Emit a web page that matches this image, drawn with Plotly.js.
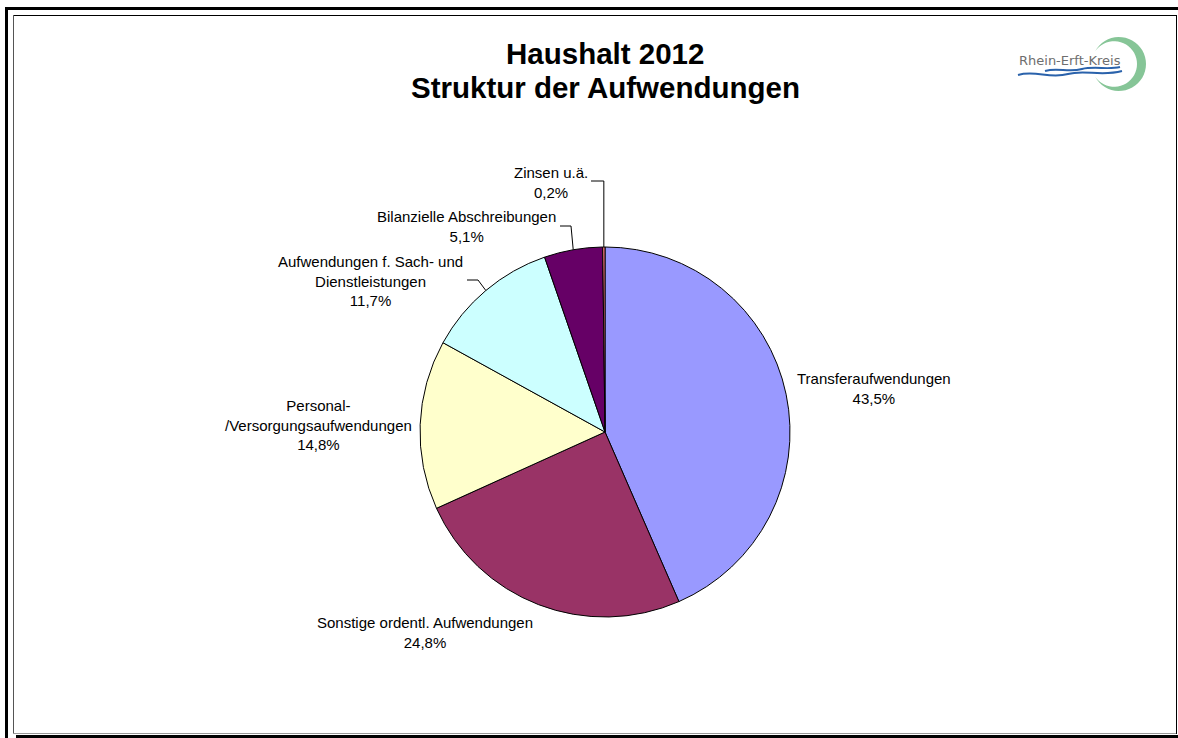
<!DOCTYPE html>
<html>
<head>
<meta charset="utf-8">
<script src="https://cdn.plot.ly/plotly-3.0.1.min.js"></script>
<style>html,body{margin:0;padding:0;background:#fff;}#chart{width:1178px;height:738px;}</style>
</head>
<body>
<div id="chart"></div>
<script>
// ---- data ----
const categories = ['Transferaufwendungen','Sonstige ordentl. Aufwendungen','Personal-/Versorgungsaufwendungen','Aufwendungen f. Sach- und Dienstleistungen','Bilanzielle Abschreibungen','Zinsen u.ä.'];
const labelLines = ['Transferaufwendungen','Sonstige ordentl. Aufwendungen','Personal-<br>/Versorgungsaufwendungen','Aufwendungen f. Sach- und<br>Dienstleistungen','Bilanzielle Abschreibungen','Zinsen u.ä.'];
const shares = [43.5, 24.8, 14.8, 11.7, 5.1, 0.2];
const titleLines = ['Haushalt 2012','Struktur der Aufwendungen'];
const logoText = 'Rhein-Erft-Kreis';

// ---- styles / layout ----
const sliceColors = ['#9999FF','#993366','#FFFFCC','#CCFFFF','#660066','#FF8080'];
const W = 1178, H = 738;
const CX = 605, CY = 432, R = 185;
const px = x => x / W;
const py = y => 1 - y / H;
const P = (x, y) => px(x) + ',' + py(y);
const labelPos = [[874,388],[425,632],[318,425],[371,281],[466,227],[551,183]];
const leaderStarts = {3:[[467,280],[478,280]], 4:[[560,226],[571,226]], 5:[[591,181],null]};
const titleY = [54, 88];
const FONT = 'Liberation Sans, Arial, sans-serif';

const total = shares.reduce((a,b)=>a+b,0);
const fmt = v => v.toFixed(1).replace('.', ',') + '%';

const annotations = [];
const shapes = [];

// title lines
titleLines.forEach((t, i) => {
  annotations.push({xref:'paper', yref:'paper', x:px(605), y:py(titleY[i]), xanchor:'center', yanchor:'middle',
    showarrow:false, text:'<b>'+t+'</b>', font:{family:FONT, size:29.5, color:'#000'}});
});

// labels
let cum = 0;
shares.forEach((v, i) => {
  const f = (cum + v/2) / total;
  cum += v;
  const ang = 2*Math.PI*f;
  const ex = CX + R*Math.sin(ang), ey = CY - R*Math.cos(ang);
  annotations.push({
    xref:'paper', yref:'paper', x:px(labelPos[i][0]), y:py(labelPos[i][1]),
    xanchor:'center', yanchor:'middle', showarrow:false, align:'center',
    text: labelLines[i] + '<br>' + fmt(v),
    font:{family:FONT, size:15, color:'#000'}
  });
  if (leaderStarts[i]) {
    const s = leaderStarts[i][0];
    const e = leaderStarts[i][1] || [ex, s[1]];
    shapes.push({type:'path', xref:'paper', yref:'paper',
      path:'M' + P(s[0], s[1]) + ' L' + P(e[0], e[1]) + ' L' + P(ex, ey),
      line:{color:'#000', width:1}});
  }
});

// frame
function rect(x0,y0,x1,y1,color){
  shapes.push({type:'rect', xref:'paper', yref:'paper', x0:px(x0), x1:px(x1), y0:py(y1), y1:py(y0),
    fillcolor:color, line:{width:0}, layer:'above'});
}
rect(5,7,8,738,'#000');
rect(5,7,1178,10,'#000');
rect(13,15,1177,16,'#000');
rect(13,15,14,734,'#555');
rect(13,733,1177,734,'#999');
rect(16,735,1178,738,'#000');
rect(1176,15,1177,734,'#000');

// logo: crescent
(function(){
  const oc = [1119,64], oR = 27, a0 = 152*Math.PI/180;
  const pts = [];
  for (let k=0;k<=40;k++){ const a = -a0 + 2*a0*k/40; pts.push([oc[0]+oR*Math.cos(a), oc[1]+oR*Math.sin(a)]); }
  const T1 = pts[0], T2 = pts[pts.length-1];
  const M = [1137, 64];
  const xc = (M[0]*M[0] - T1[0]*T1[0] - (T1[1]-64)*(T1[1]-64)) / (2*(M[0]-T1[0]));
  const ir = M[0]-xc;
  const b1 = Math.atan2(T2[1]-64, T2[0]-xc), b0 = Math.atan2(T1[1]-64, T1[0]-xc);
  for (let k=1;k<40;k++){ const a = b1 + (b0-b1)*k/40; pts.push([xc+ir*Math.cos(a), 64+ir*Math.sin(a)]); }
  shapes.push({type:'path', xref:'paper', yref:'paper',
    path:'M' + pts.map(p=>P(p[0],p[1])).join(' L') + ' Z',
    fillcolor:'#86c597', line:{width:0}});
})();
// logo: blue waves
shapes.push({type:'path', xref:'paper', yref:'paper',
  path:'M'+P(1018,75)+' C'+P(1035,70)+' '+P(1050,79)+' '+P(1068,74)+' C'+P(1085,69)+' '+P(1100,77)+' '+P(1122,71),
  line:{color:'#2a62ab', width:2}});
shapes.push({type:'path', xref:'paper', yref:'paper',
  path:'M'+P(1045,71)+' C'+P(1058,67)+' '+P(1068,73)+' '+P(1082,69)+' C'+P(1095,66)+' '+P(1108,70)+' '+P(1120,67),
  line:{color:'#2a62ab', width:2}});
annotations.push({xref:'paper', yref:'paper', x:px(1070), y:py(61), xanchor:'center', yanchor:'middle',
  showarrow:false, text:logoText, font:{family:'DejaVu Sans, sans-serif', size:13, color:'#6e6e6e'}});

const trace = {
  type:'pie', values:shares, labels:categories, sort:false, direction:'clockwise', rotation:0,
  marker:{colors:sliceColors, line:{color:'#000', width:1}},
  textinfo:'none', hoverinfo:'label+percent',
  domain:{x:[px(CX-R), px(CX+R)], y:[py(CY+R), py(CY-R)]}
};

const layout = {
  width:W, height:H, margin:{l:0,r:0,t:0,b:0}, showlegend:false,
  paper_bgcolor:'#fff', plot_bgcolor:'#fff',
  annotations:annotations, shapes:shapes
};
Plotly.newPlot('chart', [trace], layout, {displayModeBar:false, staticPlot:true});
</script>
</body>
</html>
